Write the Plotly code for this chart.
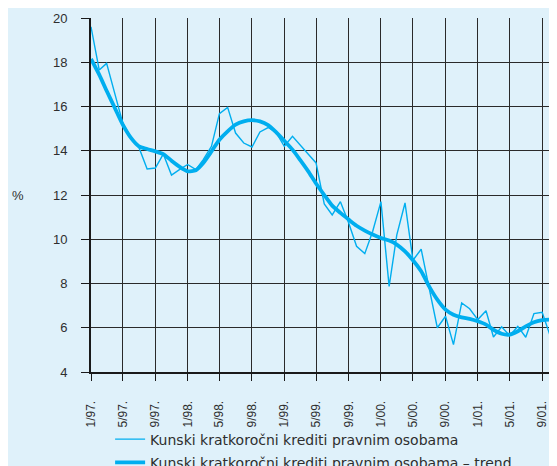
import pandas as pd
import plotly.graph_objects as go

# Monthly data from 1/97
raw_values = [19.6, 17.65, 17.95, 16.6, 15.25, 14.6, 14.15, 13.18, 13.22, 13.85,
              12.9, 13.15, 13.38, 13.15, 13.6, 14.2, 15.68, 15.96, 14.8, 14.35,
              14.17, 14.85, 15.05, 14.83, 14.2, 14.65, 14.25, 13.85, 13.45, 11.6,
              11.1, 11.7, 10.75, 9.68, 9.35, 10.36, 11.7, 7.87, 10.2, 11.64,
              9.05, 9.55, 7.8, 6.0, 6.52, 5.24, 7.12, 6.86, 6.37, 6.77,
              5.58, 6.04, 5.64, 6.06, 5.57, 6.64, 6.7, 5.64, 5.4]
trend_values = [18.15, 17.44, 16.71, 15.93, 15.18, 14.58, 14.2, 14.08, 13.97, 13.85,
                13.55, 13.28, 13.07, 13.12, 13.45, 13.97, 14.5, 14.88, 15.18, 15.33,
                15.38, 15.33, 15.16, 14.84, 14.45, 14.05, 13.6, 13.08, 12.52, 12.0,
                11.52, 11.19, 10.89, 10.61, 10.39, 10.21, 10.06, 9.94, 9.76, 9.45,
                9.05, 8.55, 7.87, 7.27, 6.82, 6.59, 6.47, 6.4, 6.29, 6.14,
                5.91, 5.73, 5.69, 5.84, 6.06, 6.25, 6.34, 6.37, 6.37]
months = pd.date_range("1997-01-01", periods=len(raw_values), freq="MS")

tick_labels = ["1/97.", "5/97.", "9/97.", "1/98.", "5/98.", "9/98.", "1/99.", "5/99.",
               "9/99.", "1/00.", "5/00.", "9/00.", "1/01.", "5/01.", "9/01."]
tick_dates = [months[i * 4] for i in range(len(tick_labels))]

series_names = ["Kunski kratkoročni krediti pravnim osobama",
                "Kunski kratkoročni krediti pravnim osobama – trend"]

BG = "#dff1fa"
LINE = "#00aeef"
TXT = "#2e2e2e"
GRID = "#2a2a2a"

fig = go.Figure()
fig.add_trace(go.Scatter(x=months, y=raw_values, mode="lines", name=series_names[0],
                         legendgroup="a",
                         line=dict(color=LINE, width=1.4)))
fig.add_trace(go.Scatter(x=months, y=trend_values, mode="lines", name=series_names[1],
                         legendgroup="b",
                         line=dict(color=LINE, width=3.8, shape="spline", smoothing=0.6)))

fig.update_layout(
    width=549, height=458,
    margin=dict(l=83, r=0, t=10, b=93.5, autoexpand=False),
    paper_bgcolor=BG, plot_bgcolor=BG,
    font=dict(family="Liberation Sans, Arial, sans-serif", color=TXT, size=13),
    showlegend=True,
    legend=dict(x=0.041, y=-0.1455, xanchor="left", yanchor="top",
                bgcolor="rgba(0,0,0,0)", tracegroupgap=2,
                font=dict(family="DejaVu Sans", size=14, color=TXT)),
    xaxis=dict(type="date", range=["1997-01-01", "2001-10-27"],
               tickvals=tick_dates, ticktext=tick_labels, tickangle=-90,
               showgrid=True, gridcolor=GRID, gridwidth=1,
               showline=True, linecolor="#1a1a1a", linewidth=2,
               ticks="outside", ticklen=7, tickcolor="#1a1a1a", tickwidth=1,
               ticklabelstandoff=15,
               tickfont=dict(size=12, color=TXT), zeroline=False),
    yaxis=dict(range=[4, 20], dtick=2, tick0=4,
               showgrid=True, gridcolor=GRID, gridwidth=1,
               showline=True, linecolor="#1a1a1a", linewidth=2,
               ticks="outside", ticklen=8, tickcolor="#1a1a1a", tickwidth=1,
               ticklabelstandoff=11,
               tickfont=dict(size=13, color=TXT), zeroline=False),
    annotations=[dict(text="%", xref="paper", yref="paper", x=-0.156, y=0.5,
                      xanchor="center", yanchor="middle", showarrow=False,
                      font=dict(size=13, color=TXT))],
)

fig.write_html("out.html")
